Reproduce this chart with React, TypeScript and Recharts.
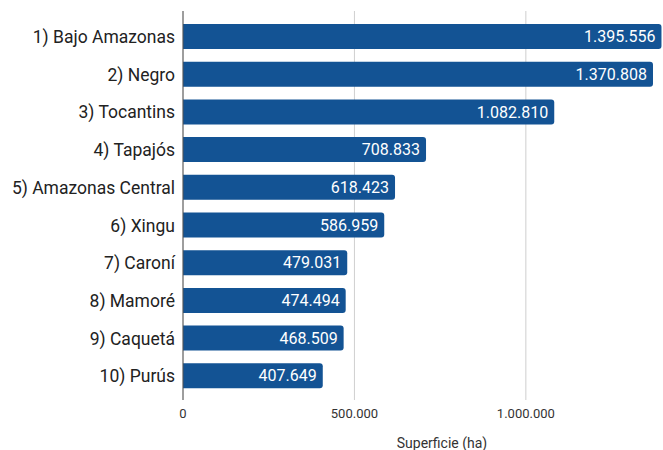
import React from "react";
import { BarChart, Bar, XAxis, YAxis, CartesianGrid, LabelList } from "recharts";

const cuencas = [
  "1) Bajo Amazonas",
  "2) Negro",
  "3) Tocantins",
  "4) Tapajós",
  "5) Amazonas Central",
  "6) Xingu",
  "7) Caroní",
  "8) Mamoré",
  "9) Caquetá",
  "10) Purús",
];

const superficie = [1395556, 1370808, 1082810, 708833, 618423, 586959, 479031, 474494, 468509, 407649];

const xTicks = [0, 500000, 1000000];

const fmt = (v: number) => String(Math.round(v)).replace(/\B(?=(\d{3})+(?!\d))/g, ".");

const data = cuencas.map((name, i) => ({ name, valor: superficie[i] }));

const font = "Roboto, 'Noto Sans', sans-serif";

export default function App() {
  return (
    <div style={{ position: "absolute", left: 0, top: 0, width: 663, height: 450, background: "#fff", fontFamily: font }}>
      <BarChart
        width={663}
        height={450}
        data={data}
        layout="vertical"
        margin={{ top: 11, right: 0, bottom: 0, left: 0 }}
        barCategoryGap={6}
      >
        <CartesianGrid horizontal={false} stroke="#cfcfcf" syncWithTicks />
        <XAxis
          type="number"
          domain={[0, 1400000]}
          ticks={xTicks}
          tickFormatter={fmt}
          axisLine={false}
          tickLine={false}
          tickSize={6}
          tickMargin={3}
          height={50}
          tick={{ fill: "#333", fontSize: 13, fontFamily: font }}
          label={{ value: "Superficie (ha)", position: "insideBottom", offset: 2, dx: 19, fill: "#333", fontSize: 14, fontFamily: font }}
        />
        <YAxis
          type="category"
          dataKey="name"
          width={183}
          tickLine={false}
          tickSize={6}
          tickMargin={2}
          axisLine={{ stroke: "#555" }}
          padding={{ top: 7, bottom: 5 }}
          interval={0}
          tick={{ fill: "#222", fontSize: 17.5, fontFamily: font }}
        />
        <Bar dataKey="valor" fill="#135394" barSize={25} radius={[0, 3, 3, 0]} isAnimationActive={false}>
          <LabelList
            dataKey="valor"
            position="insideRight"
            offset={6}
            formatter={(v: any) => fmt(Number(v))}
            style={{ fill: "#fff", fontSize: 16, fontFamily: font }}
          />
        </Bar>
      </BarChart>
    </div>
  );
}
